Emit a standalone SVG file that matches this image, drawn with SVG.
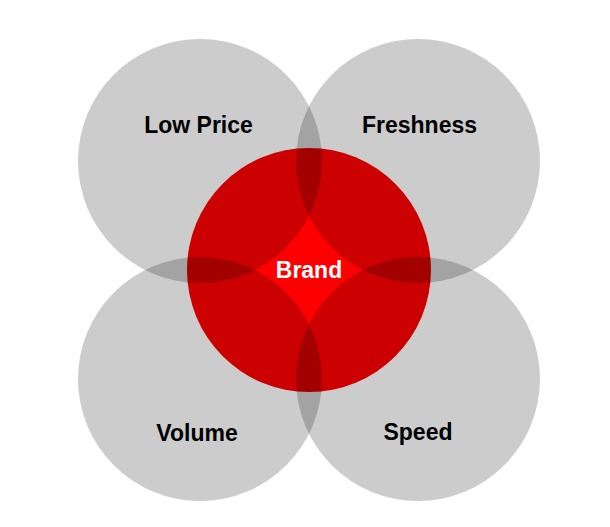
<svg xmlns="http://www.w3.org/2000/svg" width="610" height="527" viewBox="0 0 610 527">
<style>
.grey{fill:#000;fill-opacity:0.2}
.lbl{font-family:"Liberation Sans",Arial,sans-serif;font-weight:bold;font-size:23px;text-anchor:middle;fill:#000}
.brand{fill:#fff}
</style>
<rect width="610" height="527" fill="#fff"/>
<g id="brand">
<circle cx="309" cy="270" r="122" fill="#ff0000"/>
</g>
<g id="low-price">
<circle class="grey" cx="200" cy="161" r="122"/>
<text class="lbl" x="198.5" y="133">Low Price</text>
</g>
<g id="freshness">
<circle class="grey" cx="418" cy="161" r="122"/>
<text class="lbl" x="419.5" y="133">Freshness</text>
</g>
<g id="volume">
<circle class="grey" cx="200" cy="379" r="122"/>
<text class="lbl" x="197" y="441">Volume</text>
</g>
<g id="speed">
<circle class="grey" cx="418" cy="379" r="122"/>
<text class="lbl" x="418" y="440">Speed</text>
</g>
<g id="brand-label">
<text class="lbl brand" x="309" y="278">Brand</text>
</g>
<g id="connectors"/>
</svg>
